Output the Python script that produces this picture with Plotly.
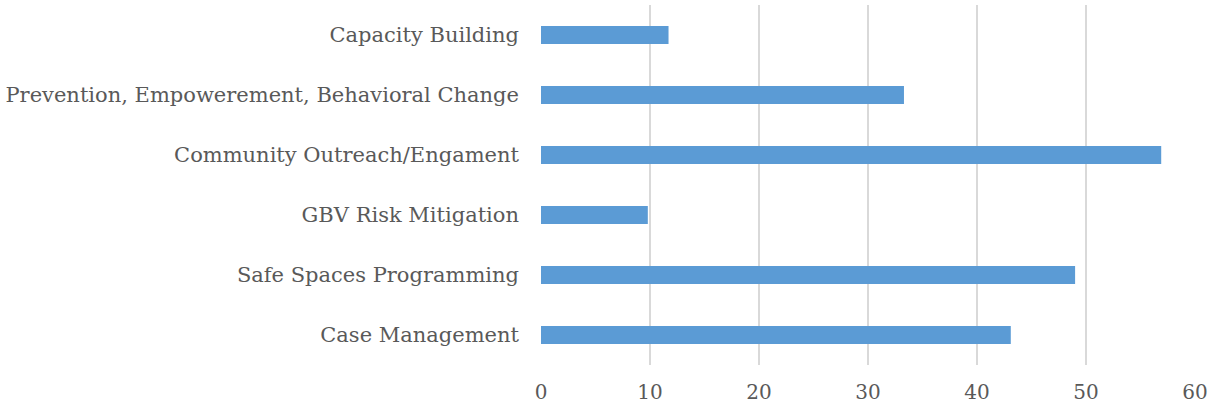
import plotly.graph_objects as go

categories = [
    "Capacity Building",
    "Prevention, Empowerement, Behavioral Change",
    "Community Outreach/Engament",
    "GBV Risk Mitigation",
    "Safe Spaces Programming",
    "Case Management",
]
values = [11.7, 33.3, 56.9, 9.8, 49.0, 43.1]
x_ticks = [0, 10, 20, 30, 40, 50, 60]

FONT = "DejaVu Serif"
GREY = "#595959"

fig = go.Figure(
    go.Bar(
        x=values,
        y=categories,
        orientation="h",
        marker=dict(color="#5b9bd5", line=dict(width=0)),
    )
)

fig.update_layout(
    width=1209,
    height=410,
    margin=dict(l=541, r=14, t=5, b=45, autoexpand=False),
    paper_bgcolor="white",
    plot_bgcolor="white",
    bargap=0.7,
    showlegend=False,
    font=dict(family=FONT, color=GREY, size=21),
)
fig.update_xaxes(
    range=[0, 60],
    tickvals=x_ticks,
    showgrid=True,
    gridcolor="#d9d9d9",
    gridwidth=1.5,
    zeroline=False,
    showline=False,
    ticks="",
    automargin=False,
    ticklabelstandoff=13,
    tickfont=dict(family=FONT, size=20, color=GREY),
)
fig.update_yaxes(
    autorange="reversed",
    showgrid=False,
    zeroline=False,
    showline=False,
    ticks="",
    automargin=False,
    ticklabelstandoff=21,
    tickfont=dict(family=FONT, size=21, color=GREY),
)

fig.write_html(
    "out.html",
    config={"displayModeBar": False},
    post_script="document.body.style.margin='0';document.body.style.overflow='hidden';",
)
